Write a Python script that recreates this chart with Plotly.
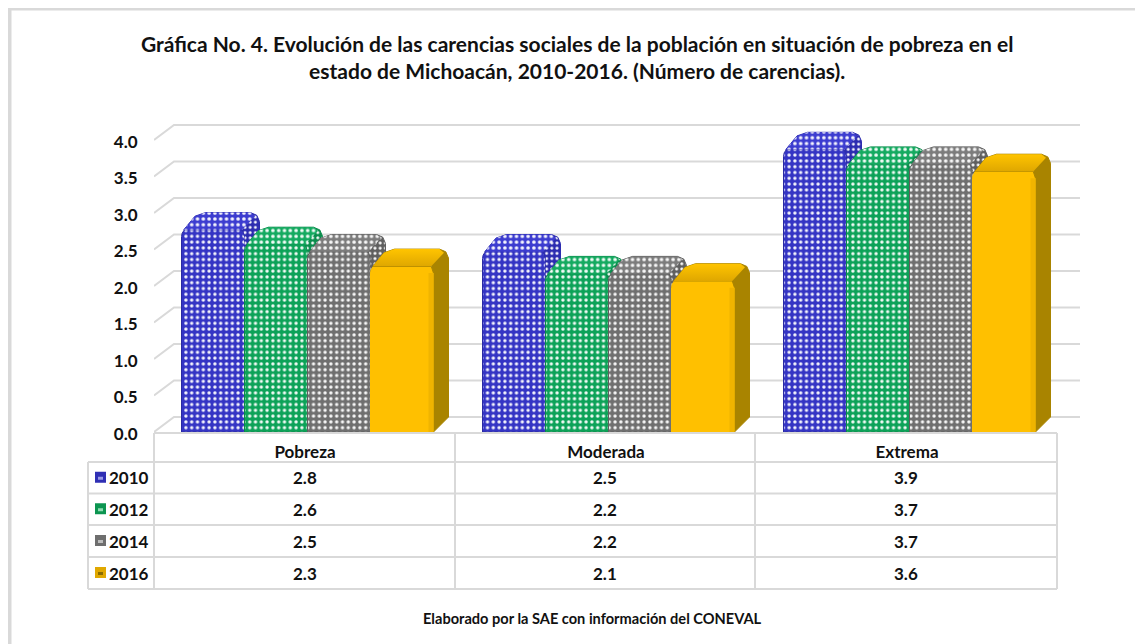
import plotly.graph_objects as go

categories = ["Pobreza", "Moderada", "Extrema"]
years = ["2010", "2012", "2014", "2016"]
v2010 = [2.8, 2.5, 3.9]
v2012 = [2.6, 2.2, 3.7]
v2014 = [2.5, 2.2, 3.7]
v2016 = [2.3, 2.1, 3.6]
series_values = [v2010, v2012, v2014, v2016]
ticks = [0.0, 0.5, 1.0, 1.5, 2.0, 2.5, 3.0, 3.5, 4.0]

title = ("Gráfica No. 4. Evolución de las carencias sociales de la población en situación de pobreza en el<br>"
         "estado de Michoacán, 2010-2016. (Número de carencias).")
footer = "Elaborado por la SAE con información del CONEVAL"

W, H = 1135, 644
FONT = "Lato"
INK = "#111111"
GRID = "#d9d9d9"
PX_X = 301.0      # pixels per category
PX_Y = 73.0       # pixels per unit of value
X0_PX = 305.0     # pixel of first category centre
Y0_PX = 432.0     # pixel of value 0 on the front plane
L_PX, R_PX, T_PX = 154.0, 1085.0, 100.0

x_range = [(L_PX - X0_PX) / PX_X, (R_PX - X0_PX) / PX_X]
y_range = [0, (Y0_PX - T_PX) / PX_Y]
x_domain = [L_PX / W, R_PX / W]
y_domain = [(H - Y0_PX) / H, (H - T_PX) / H]

BAR_W = 63.0 / PX_X
SHIFT = 2.5 / PX_X
DX = 15.0 / PX_X
DY = 15.0 / PX_Y
WALL_DX = 20.0 / PX_X
WALL_DY = 15.0 / PX_Y
C_X = 9.0 / PX_X
C_Y = 9.0 / PX_Y
BEVEL = 5.0 / PX_X

styles = [
    dict(front="#3434c4", line="#2a2aa2", top="#3c3cd0", side="#2c2cb0", dot="rgba(255,255,255,0.95)"),
    dict(front="#0ca258", line="#0a8a4a", top="#14aa60", side="#0a8c4c", dot="rgba(255,255,255,0.95)"),
    dict(front="#6f6f6f", line="#5f5f5f", top="#7c7c7c", side="#5f5f5f", dot="rgba(255,255,255,0.95)"),
    dict(front="#ffc000", line="#ffc000", top="#e6ac00", side="#a98400", dot=None),
]

fig = go.Figure()

gx, gy = [], []
left = x_range[0]
wall_right = (1080 - X0_PX) / PX_X
for t in ticks:
    gx += [left, left + WALL_DX, wall_right, None]
    gy += [t, t + WALL_DY, t + WALL_DY, None]
fig.add_trace(go.Scatter(x=gx, y=gy, mode="lines", line=dict(color=GRID, width=2),
                         hoverinfo="skip", showlegend=False, cliponaxis=False))


def pattern(st, size=5.8, solidity=0.27):
    if st["dot"] is None:
        return None
    return dict(shape=".", size=size, solidity=solidity, fgcolor=st["dot"], fgopacity=1,
                bgcolor=st["front"], fillmode="replace")


for i, (name, vals, st) in enumerate(zip(years, series_values, styles)):
    n = str(i + 2)
    xa, ya = "x" + n, "y" + n
    offset = (i - 2) * BAR_W + SHIFT
    pat = pattern(st)
    for c, v in enumerate(vals):
        x0 = c + offset
        x1 = x0 + BAR_W
        lip = C_Y * 0.25
        sx = [x1, x1 + DX, x1 + DX, x1 + DX - C_X * 0.3, x1 + DX - C_X,
              x0 + DX + C_X, x0 + DX * 0.9, x0 + C_X * 0.25, x1 - C_X * 0.25, x1]
        sy = [0, DY, v + DY - C_Y, v + DY - C_Y * 0.3, v + DY,
              v + DY, v + DY - C_Y * 0.4, v - lip, v - lip, v - C_Y]
        tx = [x0 + C_X * 0.25, x0 + DX * 0.9, x0 + DX + C_X, x1 + DX - C_X, x1 + DX - C_X * 0.5, x1 - C_X * 0.25, x0 + C_X * 0.25]
        ty = [v - lip, v + DY - C_Y * 0.4, v + DY, v + DY, v + DY - C_Y * 0.4, v - lip, v - lip]
        side_kw, top_kw = {}, {}
        if pat:
            side_kw["fillpattern"] = dict(pat, bgcolor=st["side"], size=5.2, solidity=0.27)
            top_kw["fillpattern"] = dict(pat, bgcolor=st["top"], size=5.8, solidity=0.3)
        else:
            top_kw["fillgradient"] = dict(type="vertical", colorscale=[[0, "#dfa700"], [1, "#ffc400"]])
        fig.add_trace(go.Scatter(x=sx, y=sy, xaxis=xa, yaxis=ya, mode="lines", fill="toself",
                                 fillcolor=st["side"], line=dict(color=st["side"], width=1),
                                 hoverinfo="skip", showlegend=False, cliponaxis=False, **side_kw))
        fig.add_trace(go.Scatter(x=tx, y=ty, xaxis=xa, yaxis=ya, mode="lines", fill="toself",
                                 fillcolor=st["top"], line=dict(color=st["top"], width=0),
                                 hoverinfo="skip", showlegend=False, cliponaxis=False, **top_kw))
        if not pat:
            fig.add_trace(go.Scatter(x=[x1 - BEVEL, x1, x1, x1 - BEVEL, x1 - BEVEL],
                                     y=[0, 0, v - C_Y, v - C_Y, 0], xaxis=xa, yaxis=ya, mode="lines",
                                     fill="toself", fillcolor="#f0b400", line=dict(width=0),
                                     hoverinfo="skip", showlegend=False, cliponaxis=False))
    marker = dict(color=st["front"], line=dict(color=st["line"], width=1))
    if pat:
        marker["pattern"] = pat
    fig.add_trace(go.Bar(x=list(range(len(categories))), y=vals, name=name, xaxis=xa, yaxis=ya,
                         width=BAR_W, offset=offset, marker=marker, showlegend=False,
                         customdata=categories, hovertemplate="%{customdata}: %{y}<extra>" + name + "</extra>"))

layout_axes = {}
for i in range(len(years)):
    n = str(i + 2)
    layout_axes["xaxis" + n] = dict(range=x_range, domain=x_domain, overlaying="x", anchor="y" + n, visible=False)
    layout_axes["yaxis" + n] = dict(range=y_range, domain=y_domain, overlaying="y", anchor="x" + n, visible=False)


def px(x):
    return x / W


def py(y):
    return 1 - y / H


shapes = []


def pline(x0, y0, x1, y1, color=GRID, width=2):
    shapes.append(dict(type="line", xref="paper", yref="paper", x0=px(x0), y0=py(y0), x1=px(x1), y1=py(y1),
                       line=dict(color=color, width=width), layer="below"))


def prect(x0, y0, x1, y1, color):
    shapes.append(dict(type="rect", xref="paper", yref="paper", x0=px(x0), y0=py(y0), x1=px(x1), y1=py(y1),
                       fillcolor=color, line=dict(width=0), layer="above"))


prect(8, 8, 1135, 10.5, "#d9d9d9")
prect(8, 8, 11.5, 644, "#d9d9d9")

col_x = [88, 154, 455, 755, 1057]
row_y = [433, 462, 493.5, 525, 557, 589]
for y in row_y[1:]:
    pline(col_x[0], y, col_x[-1], y)
pline(col_x[1], row_y[0], col_x[-1], row_y[0])
pline(col_x[0], row_y[1], col_x[0], row_y[-1])
for x in col_x[1:]:
    pline(x, row_y[0], x, row_y[-1])

annotations = [
    dict(text="<b>" + title + "</b>", x=px(577), y=py(57), xref="paper", yref="paper", showarrow=False,
         xanchor="center", yanchor="middle", align="center", font=dict(family=FONT, size=21, color=INK)),
    dict(text="<b>" + footer + "</b>", x=px(592), y=py(618), xref="paper", yref="paper", showarrow=False,
         xanchor="center", yanchor="middle", font=dict(family=FONT, size=14.6, color=INK)),
]

swatch_main = ["#2f2fb4", "#0c9550", "#6e6e6e", "#e0a800"]
swatch_mark = ["#9a9ae6", "#8fdcb2", "#bdbdbd", "#8a6c00"]
for r, (yr, vals) in enumerate(zip(years, series_values)):
    yc = (row_y[r + 1] + row_y[r + 2]) / 2
    annotations.append(dict(text="<b>" + yr + "</b>", x=px(107), y=py(yc), xref="paper", yref="paper",
                            showarrow=False, xanchor="left", yanchor="middle",
                            font=dict(family=FONT, size=17, color=INK)))
    prect(95, yc - 6, 106, yc + 5, swatch_main[r])
    prect(98, yc - 1, 103, yc + 2, swatch_mark[r])
    for c, v in enumerate(vals):
        annotations.append(dict(text="<b>%.1f</b>" % v, x=px((col_x[c + 1] + col_x[c + 2]) / 2), y=py(yc),
                                xref="paper", yref="paper", showarrow=False, xanchor="center", yanchor="middle",
                                font=dict(family=FONT, size=17, color=INK)))

fig.update_layout(
    width=W, height=H, autosize=False,
    margin=dict(l=0, r=0, t=0, b=0, pad=0, autoexpand=False),
    paper_bgcolor="white", plot_bgcolor="white",
    showlegend=False, barmode="overlay", barcornerradius=9,
    xaxis=dict(range=x_range, domain=x_domain, tickvals=list(range(len(categories))), ticktext=categories,
               showgrid=False, zeroline=False, showline=False, ticks="outside", ticklen=5, tickcolor="rgba(0,0,0,0)",
               tickfont=dict(family=FONT, size=17, color=INK, weight=700)),
    yaxis=dict(range=y_range, domain=y_domain, tickvals=ticks, tickformat=".1f",
               showgrid=False, zeroline=False, showline=False, ticks="outside", ticklen=12, tickcolor="rgba(0,0,0,0)",
               ticklabelshift=2,
               tickfont=dict(family=FONT, size=17, color=INK, weight=700)),
    shapes=shapes, annotations=annotations, **layout_axes,
)

fig.write_html("out.html", post_script="document.body.style.margin='0';",
               config=dict(displayModeBar=False))
